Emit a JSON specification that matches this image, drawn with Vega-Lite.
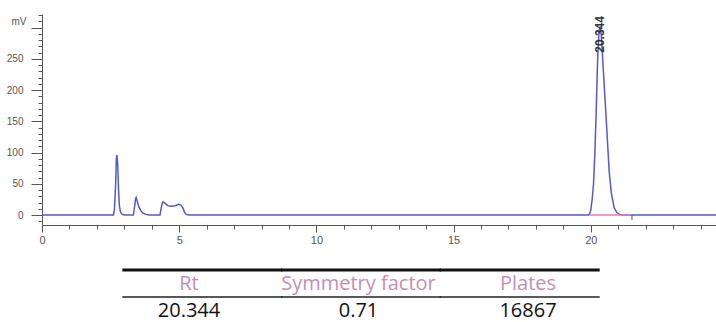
{
  "$schema": "https://vega.github.io/schema/vega-lite/v6.json",
  "padding": {"left": 6, "top": 10, "right": 0, "bottom": 0},
  "background": "white",
  "config": {
    "view": {"stroke": null},
    "concat": {"spacing": 23},
    "axis": {"labelFont": "Liberation Sans", "titleFont": "Liberation Sans", "labelColor": "#555", "titleColor": "#555", "domainColor": "#555", "tickColor": "#555", "grid": false, "labelOverlap": false}
  },
  "datasets": {
    "trace": [
      {"t": 0, "mV": 0}, {"t": 2.6, "mV": 0}, {"t": 2.64, "mV": 8}, {"t": 2.68, "mV": 45}, {"t": 2.71, "mV": 90},
      {"t": 2.73, "mV": 96}, {"t": 2.76, "mV": 80}, {"t": 2.79, "mV": 40}, {"t": 2.82, "mV": 15}, {"t": 2.86, "mV": 5},
      {"t": 2.92, "mV": 1}, {"t": 3.0, "mV": 0}, {"t": 3.33, "mV": 0}, {"t": 3.37, "mV": 12}, {"t": 3.41, "mV": 26},
      {"t": 3.43, "mV": 28}, {"t": 3.47, "mV": 22}, {"t": 3.53, "mV": 13}, {"t": 3.6, "mV": 7}, {"t": 3.68, "mV": 3},
      {"t": 3.78, "mV": 1}, {"t": 3.9, "mV": 0}, {"t": 4.3, "mV": 0}, {"t": 4.33, "mV": 8}, {"t": 4.37, "mV": 17},
      {"t": 4.41, "mV": 21}, {"t": 4.48, "mV": 19}, {"t": 4.58, "mV": 15}, {"t": 4.7, "mV": 14}, {"t": 4.85, "mV": 15},
      {"t": 4.98, "mV": 17}, {"t": 5.06, "mV": 16}, {"t": 5.14, "mV": 11}, {"t": 5.2, "mV": 4}, {"t": 5.26, "mV": 1},
      {"t": 5.35, "mV": 0}, {"t": 19.9, "mV": 0}, {"t": 19.95, "mV": 1}, {"t": 20.0, "mV": 8}, {"t": 20.05, "mV": 25},
      {"t": 20.1, "mV": 50}, {"t": 20.15, "mV": 100}, {"t": 20.2, "mV": 170}, {"t": 20.25, "mV": 250}, {"t": 20.3, "mV": 295},
      {"t": 20.34, "mV": 300}, {"t": 20.38, "mV": 290}, {"t": 20.42, "mV": 260}, {"t": 20.5, "mV": 200}, {"t": 20.58, "mV": 140},
      {"t": 20.67, "mV": 70}, {"t": 20.75, "mV": 35}, {"t": 20.85, "mV": 12}, {"t": 20.95, "mV": 4}, {"t": 21.05, "mV": 1},
      {"t": 21.15, "mV": 0}, {"t": 24.6, "mV": 0}
    ],
    "baseline": [{"t": 19.95, "mV": 0}, {"t": 21.5, "mV": 0}],
    "peaks": [{"t": 20.344, "mV": 300, "label": "20.344"}],
    "table": [
      {"row": "header", "col": "Rt", "text": "Rt"},
      {"row": "header", "col": "Symmetry factor", "text": "Symmetry factor"},
      {"row": "header", "col": "Plates", "text": "Plates"},
      {"row": "value", "col": "Rt", "text": "20.344"},
      {"row": "value", "col": "Symmetry factor", "text": "0.71"},
      {"row": "value", "col": "Plates", "text": "16867"}
    ]
  },
  "vconcat": [
    {
      "width": 675,
      "height": 211,
      "encoding": {
        "x": {
          "field": "t", "type": "quantitative",
          "scale": {"domain": [0, 24.6], "nice": false, "zero": false},
          "axis": {
            "title": null,
            "values": [0,1,2,3,4,5,6,7,8,9,10,11,12,13,14,15,16,17,18,19,20,21,22,23,24],
            "labelExpr": "datum.value % 5 === 0 ? datum.label : ''",
            "tickSize": {"condition": {"test": "datum.value % 5 === 0", "value": 7}, "value": 4},
            "labelFontSize": 11, "labelPadding": 2, "labelFlush": false
          }
        },
        "y": {
          "field": "mV", "type": "quantitative",
          "scale": {"domain": [-16, 322], "nice": false, "zero": false},
          "axis": {
            "title": "mV",
            "values": [-10,0,10,20,30,40,50,60,70,80,90,100,110,120,130,140,150,160,170,180,190,200,210,220,230,240,250,260,270,280,290,300,310,320],
            "labelExpr": "datum.value % 50 === 0 && datum.value < 300 ? datum.label : ''",
            "tickSize": {"condition": {"test": "datum.value % 50 === 0", "value": 11}, "value": 4},
            "labelFont": "Liberation Sans Narrow, Liberation Sans",
            "labelFontSize": 10, "labelPadding": 8,
            "titleAngle": 0, "titleAlign": "right", "titleBaseline": "middle",
            "titleX": -16, "titleY": 7, "titleFontSize": 10, "titleFontWeight": "normal"
          }
        }
      },
      "layer": [
        {
          "data": {"name": "trace"},
          "mark": {"type": "line", "color": "#5659c9", "strokeWidth": 1.5}
        },
        {
          "data": {"name": "baseline"},
          "mark": {"type": "line", "color": "#e57ab0", "strokeWidth": 1.5}
        },
        {
          "data": {"name": "baseline"},
          "transform": [{"filter": "datum.t > 21"}],
          "mark": {"type": "rule", "color": "#555", "strokeWidth": 1},
          "encoding": {
            "y": {"datum": 0, "type": "quantitative"},
            "y2": {"datum": -8}
          }
        },
        {
          "data": {"name": "peaks"},
          "mark": {"type": "text", "angle": 270, "align": "left", "baseline": "middle", "dx": -25, "fontSize": 12, "fontWeight": "bold", "font": "Liberation Sans", "color": "#333"},
          "encoding": {
            "text": {"field": "label", "type": "nominal"}
          }
        }
      ]
    },
    {
      "width": 675,
      "height": 54,
      "data": {"name": "table"},
      "resolve": {"scale": {"x": "independent"}},
      "layer": [
        {
          "transform": [{"filter": "datum.row === 'header'"}],
          "mark": {"type": "tick", "orient": "horizontal", "color": "#111", "opacity": 1, "thickness": 3, "size": 160},
          "encoding": {
            "x": {"field": "col", "type": "nominal", "scale": {"type": "band", "domain": ["Rt", "Symmetry factor", "Plates"], "paddingInner": 0, "paddingOuter": 0.627, "align": 0.407}, "axis": null},
            "y": {"field": "row", "type": "nominal", "scale": {"type": "band", "domain": ["header", "value"], "paddingInner": 0, "paddingOuter": 0}, "axis": null, "bandPosition": 0}
          }
        },
        {
          "transform": [{"filter": "datum.row === 'value'"}],
          "mark": {"type": "tick", "orient": "horizontal", "color": "#222", "opacity": 1, "thickness": 1.5, "size": 160},
          "encoding": {
            "x": {"field": "col", "type": "nominal", "scale": {"type": "band", "domain": ["Rt", "Symmetry factor", "Plates"], "paddingInner": 0, "paddingOuter": 0.627, "align": 0.407}, "axis": null},
            "y": {"field": "row", "type": "nominal", "axis": null, "bandPosition": 0}
          }
        },
        {
          "mark": {"type": "text", "font": "Open Sans", "fontSize": 20, "baseline": "middle", "align": "center"},
          "encoding": {
            "x": {"field": "col", "type": "nominal", "scale": {"type": "point", "domain": ["Rt", "Symmetry factor", "Plates"], "range": [147, 486], "padding": 0}, "axis": null},
            "y": {"field": "row", "type": "nominal", "axis": null, "bandPosition": 0.5},
            "text": {"field": "text", "type": "nominal"},
            "color": {"field": "row", "type": "nominal", "scale": {"domain": ["header", "value"], "range": ["#c48fb0", "#111111"]}, "legend": null}
          }
        }
      ]
    }
  ]
}
